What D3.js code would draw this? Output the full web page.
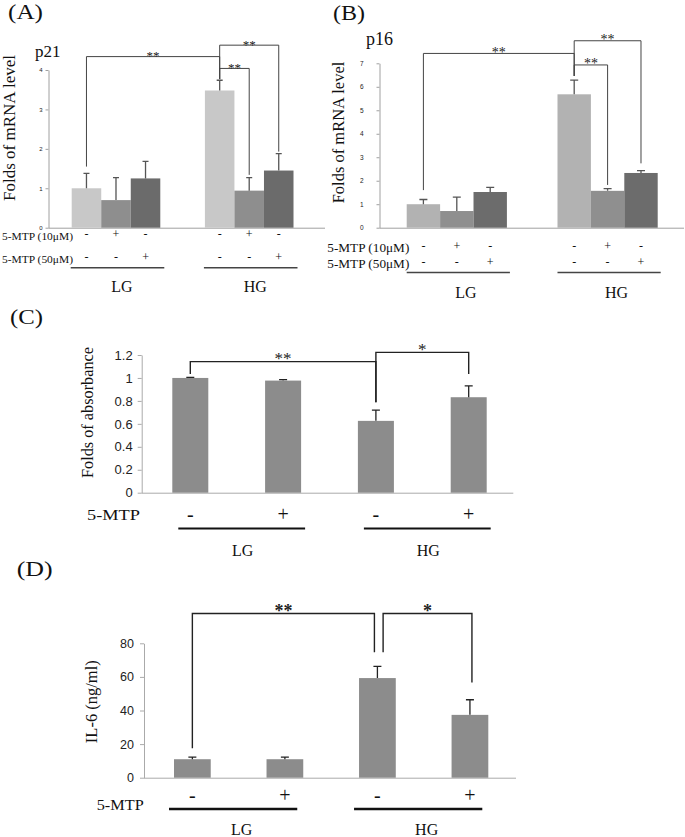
<!DOCTYPE html>
<html><head><meta charset="utf-8">
<script src="https://cdn.jsdelivr.net/npm/d3@7"></script>
<style>body{margin:0;background:#fff}</style>
</head><body><script>
// ---------- DATA ----------
const groupsAB = ["LG", "HG"];
const condAB = ["none", "10uM", "50uM"];
const p21Mean = [1.00, 0.70, 1.25, 3.48, 0.94, 1.45];
const p21SD   = [0.38, 0.57, 0.43, 0.26, 0.33, 0.43];
const p16Mean = [1.00, 0.71, 1.52, 5.68, 1.57, 2.33];
const p16SD   = [0.20, 0.59, 0.20, 0.60, 0.09, 0.10];
const p21Ticks = [0, 1, 2, 3, 4];
const p16Ticks = [0, 1, 2, 3, 4, 5, 6, 7];
const mtp10Signs = ["-", "+", "-", "-", "+", "-"];
const mtp50Signs = ["-", "-", "+", "-", "-", "+"];
const catsCD = ["LG -", "LG +", "HG -", "HG +"];
const absMean = [1.00, 0.977, 0.626, 0.832];
const absSD   = [0.005, 0.008, 0.093, 0.099];
const absTicks = [0, 0.2, 0.4, 0.6, 0.8, 1, 1.2];
const il6Mean = [11.0, 11.0, 59.3, 37.4];
const il6SD   = [1.2, 1.2, 7.0, 9.0];
const il6Ticks = [0, 20, 40, 60, 80];
const mtpSigns = ["-", "+", "-", "+"];
const p21Brackets = [
  {from: 0, to: 3, level: 4.34, endFrom: 1.55, endTo: 3.77, label: "**"},
  {from: 3, to: 5, level: 4.63, endFrom: 3.77, endTo: 1.93, label: "**"},
  {from: 3, to: 4, level: 4.04, endFrom: 3.77, endTo: 1.34, label: "**"}
];
const p16Brackets = [
  {from: 0, to: 3, level: 7.42, endFrom: 1.60, endTo: 6.46, label: "**"},
  {from: 3, to: 5, level: 7.96, endFrom: 6.46, endTo: 2.74, label: "**"},
  {from: 3, to: 4, level: 6.93, endFrom: 6.46, endTo: 1.82, label: "**"}
];
const absBrackets = [
  {from: 0, to: 2, level: 1.142, endFrom: 1.034, endTo: 0.788, label: "**"},
  {from: 2, to: 3, level: 1.223, endFrom: 0.788, endTo: 1.034, label: "*"}
];
const il6Brackets = [
  {from: 0, to: 2, level: 97.7, endFrom: 17.5, endTo: 74.6, label: "**"},
  {from: 2, to: 3, level: 97.7, endFrom: 74.6, endTo: 56.7, label: "*"}
];

// ---------- FONT PICK ----------
function pickFont(cands, generic) {
  const c = document.createElement("canvas").getContext("2d");
  const probe = "Folds of mRNA level 5-MTP (10\u03bcM) WMil";
  const w = f => { c.font = "40px " + f; return c.measureText(probe).width; };
  const base1 = w("monospace"), base2 = w("sans-serif");
  for (const f of cands) {
    const a = w(`'${f}',monospace`), b = w(`'${f}',sans-serif`);
    if (a !== base1 || b !== base2) if (Math.abs(a - b) < 0.01) return `'${f}',${generic}`;
  }
  return generic;
}
const SERIF = pickFont(["Liberation Serif", "Tinos", "Times New Roman", "Times", "Nimbus Roman",
  "Nimbus Roman No9 L", "FreeSerif", "Noto Serif", "DejaVu Serif"], "serif");
const SANS = pickFont(["Liberation Sans", "Arimo", "Arial", "Noto Sans"], "sans-serif");

// ---------- DRAWING ----------
const W = 685, H = 837;
const svg = d3.select("body").append("svg").attr("width", W).attr("height", H)
  .style("background", "#fff");

function txt(x, y, s, o = {}) {
  const t = svg.append("text").attr("x", x).attr("y", y).text(s)
    .attr("font-family", o.family || SERIF)
    .attr("font-size", o.size || 12)
    .attr("fill", o.fill || "#111")
    .attr("text-anchor", o.anchor || "start");
  if (o.weight) t.attr("font-weight", o.weight);
  if (o.len) t.attr("textLength", o.len).attr("lengthAdjust", "spacingAndGlyphs");
  if (o.rotate) t.attr("transform", `rotate(-90,${x},${y})`);
  return t;
}

function drawPanel(cfg) {
  const y = cfg.y;
  const g = svg.append("g");
  g.append("g").attr("transform", `translate(${cfg.axisX},0)`)
    .call(d3.axisLeft(y).tickValues(cfg.ticks).tickSize(cfg.tickSize)
      .tickSizeOuter(0).tickPadding(cfg.tickPad).tickFormat(cfg.fmt || d3.format("")))
    .call(a => a.select(".domain").attr("stroke", cfg.axisColor).attr("stroke-width", 1))
    .call(a => a.selectAll(".tick line").attr("stroke", cfg.axisColor))
    .call(a => a.selectAll(".tick text").attr("font-family", SANS)
      .attr("font-size", cfg.tickFont).attr("fill", "#222"));
  g.append("line").attr("x1", cfg.axisX).attr("x2", cfg.axisEnd)
    .attr("y1", y(0) + 0.5).attr("y2", y(0) + 0.5)
    .attr("stroke", cfg.axisColor).attr("stroke-width", 1);
  const idx = d3.range(cfg.means.length);
  g.selectAll("rect.bar").data(idx).join("rect")
    .attr("x", i => cfg.barX(i)).attr("width", cfg.bw)
    .attr("y", i => y(cfg.means[i])).attr("height", i => y(0) - y(cfg.means[i]))
    .attr("fill", i => cfg.color(i));
  const cx = i => cfg.barX(i) + cfg.bw / 2;
  g.selectAll("path.err").data(idx).join("path")
    .attr("d", i => {
      const top = y(cfg.means[i] + cfg.sds[i]), c = cx(i), h = cfg.capW / 2;
      return `M${c},${y(cfg.means[i])}V${top}M${c - h},${top}H${c + h}`;
    })
    .attr("stroke", cfg.errColor).attr("stroke-width", 1.3).attr("fill", "none");
  cfg.brackets.forEach((b, k) => {
    const n = cfg.nudge ? cfg.nudge[k] : [0, 0];
    const x1 = cx(b.from) + n[0], x2 = cx(b.to) + n[1];
    g.append("path")
      .attr("d", `M${x1},${y(b.endFrom)}V${y(b.level)}H${x2}V${y(b.endTo)}`)
      .attr("stroke", cfg.brColor).attr("stroke-width", cfg.brWidth).attr("fill", "none");
    txt((x1 + x2) / 2, y(b.level) + cfg.starDy, b.label,
      {size: cfg.starSize, anchor: "middle", weight: cfg.starWeight, fill: "#222"});
  });
  return cx;
}

// ---------- Panel A ----------
{
  const y = d3.scaleLinear().domain([0, 4]).range([227.7, 70]);
  const xG = d3.scaleBand().domain(groupsAB).range([71.7, 293.5]).paddingInner(0.335);
  const xC = d3.scaleBand().domain(condAB).range([0, xG.bandwidth()]);
  const barX = i => xG(groupsAB[Math.floor(i / 3)]) + xC(condAB[i % 3]);
  const shades = ["#c8c8c8", "#8e8e8e", "#6b6b6b"];
  const cx = drawPanel({y, axisX: 48.5, axisEnd: 325, ticks: p21Ticks, tickSize: 3, tickPad: 3,
    tickFont: 6, axisColor: "#a0a0a0", means: p21Mean, sds: p21SD, barX, bw: xC.bandwidth(),
    color: i => shades[i % 3], capW: 6, errColor: "#555", brackets: p21Brackets,
    brColor: "#444", brWidth: 1, starDy: 3.5, starSize: 13});
  txt(8, 19, "(A)", {size: 21, len: 35});
  txt(35, 57, "p21", {size: 17});
  txt(15, 128, "Folds of mRNA level", {size: 17, anchor: "middle", rotate: true});
  txt(2, 240, "5-MTP (10\u03bcM)", {size: 10.5, len: 71});
  txt(2, 262.5, "5-MTP (50\u03bcM)", {size: 10.5, len: 71});
  mtp10Signs.forEach((s, i) => txt(cx(i), 237.5, s, {size: 12, anchor: "middle"}));
  mtp50Signs.forEach((s, i) => txt(cx(i), 261, s, {size: 12, anchor: "middle"}));
  groupsAB.forEach(gn => {
    const x0 = xG(gn);
    svg.append("line").attr("x1", x0 - 1).attr("x2", x0 + xG.bandwidth() + 4)
      .attr("y1", 267.7).attr("y2", 267.7).attr("stroke", "#444").attr("stroke-width", 1.5);
    txt(x0 + xG.bandwidth() / 2 + 6, 291.7, gn, {size: 16, anchor: "middle"});
  });
}

// ---------- Panel B ----------
{
  const y = d3.scaleLinear().domain([0, 7]).range([227.7, 63.3]);
  const xG = d3.scaleBand().domain(groupsAB).range([406.7, 657.7]).paddingInner(0.3355);
  const xC = d3.scaleBand().domain(condAB).range([0, xG.bandwidth()]);
  const barX = i => xG(groupsAB[Math.floor(i / 3)]) + xC(condAB[i % 3]);
  const shades = ["#b2b2b2", "#8f8f8f", "#6c6c6c"];
  const cx = drawPanel({y, axisX: 379.5, axisEnd: 684, ticks: p16Ticks, tickSize: 3, tickPad: 13,
    tickFont: 6.5, axisColor: "#a0a0a0", means: p16Mean, sds: p16SD, barX, bw: xC.bandwidth(),
    color: i => shades[i % 3], capW: 8, errColor: "#555", brackets: p16Brackets,
    brColor: "#444", brWidth: 1, starDy: 3.5, starSize: 14});
  txt(333, 19.5, "(B)", {size: 21, len: 32});
  txt(366, 45, "p16", {size: 18});
  txt(343.5, 132.5, "Folds of mRNA level", {size: 16.5, anchor: "middle", rotate: true});
  txt(327.3, 251.6, "5-MTP (10\u03bcM)", {size: 11.5, len: 82});
  txt(327.3, 267.6, "5-MTP (50\u03bcM)", {size: 11.5, len: 82});
  mtp10Signs.forEach((s, i) => txt(cx(i), 250.3, s, {size: 12, anchor: "middle"}));
  mtp50Signs.forEach((s, i) => txt(cx(i), 266.3, s, {size: 12, anchor: "middle"}));
  groupsAB.forEach(gn => {
    const x0 = xG(gn);
    svg.append("line").attr("x1", x0).attr("x2", x0 + xG.bandwidth() + 3)
      .attr("y1", 272.5).attr("y2", 272.5).attr("stroke", "#444").attr("stroke-width", 1.5);
    txt(x0 + xG.bandwidth() / 2 + 9, 298, gn, {size: 16, anchor: "middle"});
  });
}

// ---------- Panel C ----------
{
  const y = d3.scaleLinear().domain([0, 1.2]).range([492.7, 355]);
  const x = d3.scaleBand().domain(catsCD).range([172.3, 486.7]).paddingInner(0.612);
  const barX = i => x(catsCD[i]);
  const cx = drawPanel({y, axisX: 141.7, axisEnd: 513.3, ticks: absTicks, tickSize: 4, tickPad: 5,
    tickFont: 13, axisColor: "#aaaaaa", fmt: d3.format("~g"), means: absMean, sds: absSD, barX,
    bw: x.bandwidth(), color: () => "#8c8c8c", capW: 8, errColor: "#222", brackets: absBrackets,
    brColor: "#222", brWidth: 1.4, starDy: 2.5, starSize: 17});
  txt(10, 324, "(C)", {size: 22, len: 33});
  txt(93, 412.5, "Folds of absorbance", {size: 16.3, anchor: "middle", rotate: true});
  txt(87, 520, "5-MTP", {size: 15, len: 53});
  mtpSigns.forEach((s, i) => txt(cx(i), 521, s, {size: 20, anchor: "middle"}));
  [[0, 1, "LG"], [2, 3, "HG"]].forEach(([a, b, gn]) => {
    svg.append("line").attr("x1", barX(a) + 6).attr("x2", barX(b) + x.bandwidth() + 4)
      .attr("y1", 528.5).attr("y2", 528.5).attr("stroke", "#111").attr("stroke-width", 2);
    txt((cx(a) + cx(b)) / 2 + 6, 556, gn, {size: 16, anchor: "middle"});
  });
}

// ---------- Panel D ----------
{
  const y = d3.scaleLinear().domain([0, 80]).range([777.7, 643.3]);
  const x = d3.scaleBand().domain(catsCD).range([174, 488.3]).paddingInner(0.603);
  const barX = i => x(catsCD[i]);
  const cx = drawPanel({y, axisX: 144, axisEnd: 516, ticks: il6Ticks, tickSize: 4, tickPad: 6,
    tickFont: 12.5, axisColor: "#aaaaaa", means: il6Mean, sds: il6SD, barX,
    bw: x.bandwidth(), color: () => "#8c8c8c", capW: 8, errColor: "#222", brackets: il6Brackets,
    brColor: "#222", brWidth: 1.4, starDy: 3, starSize: 18, starWeight: "bold",
    nudge: [[0, -3], [5.7, 2]]});
  txt(16.7, 576, "(D)", {size: 21, len: 36});
  txt(96.7, 701.7, "IL-6 (ng/ml)", {size: 16.5, anchor: "middle", rotate: true});
  txt(96.7, 810, "5-MTP", {size: 15, len: 47});
  mtpSigns.forEach((s, i) => txt(cx(i), 801.7, s, {size: 20, anchor: "middle"}));
  [[0, 1, "LG"], [2, 3, "HG"]].forEach(([a, b, gn]) => {
    svg.append("line").attr("x1", barX(a) - 5).attr("x2", barX(b) + x.bandwidth() - 6)
      .attr("y1", 809).attr("y2", 809).attr("stroke", "#111").attr("stroke-width", 2.5);
    txt((cx(a) + cx(b)) / 2 + 3, 834.5, gn, {size: 16, anchor: "middle"});
  });
}
</script></body></html>
